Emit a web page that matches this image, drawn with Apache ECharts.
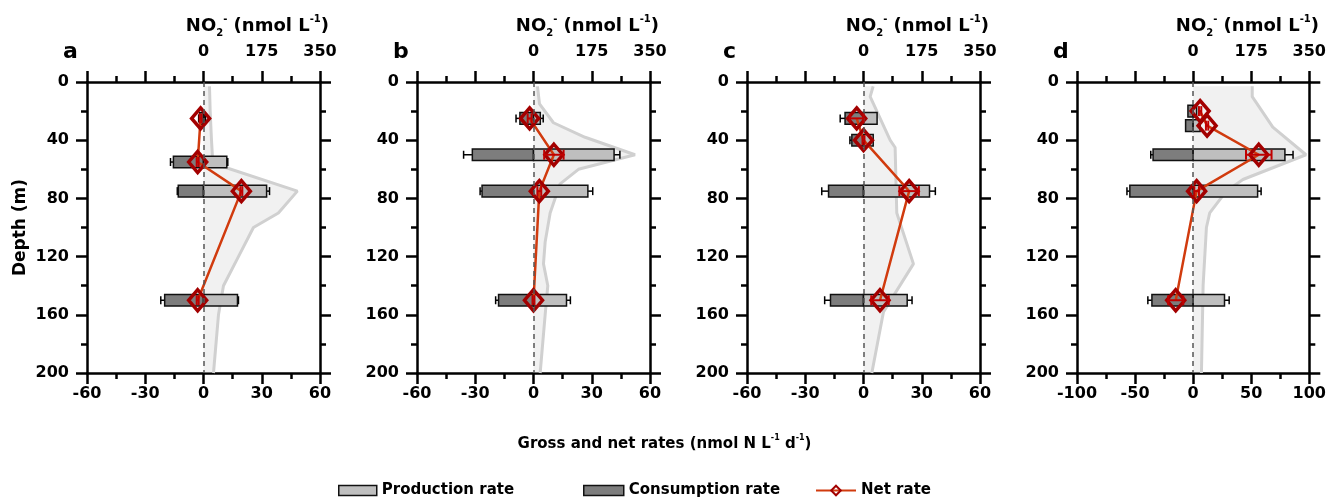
<!DOCTYPE html>
<html>
<head>
<meta charset="utf-8">
<script src="https://cdn.jsdelivr.net/npm/echarts@6/dist/echarts.min.js"></script>
<style>
  html, body { margin: 0; padding: 0; background: #fff; }
  #chart { width: 1329px; height: 499px; }
</style>
</head>
<body>
<div id="chart"></div>
<script>
// panel a
const depthA = [25, 55, 75, 150]
const prodA = [0.5, 12, 32.5, 17.5]
const prodSdA = [0.5, 0.5, 1.5, 0.5]
const consA = [-2, -15.5, -13, -20]
const consSdA = [0.5, 1.5, 0.5, 2]
const netA = [-1.5, -3, 19.5, -3]
const netSdA = [0.5, 0.5, 0.5, 0.5]
const no2DepthA = [3, 20, 40, 52, 56, 75, 90, 100, 120, 140, 160, 200]
const no2A = [18, 20, 24, 27, 30, 282, 225, 150, 105, 60, 45, 30]

// panel b
const depthB = [25, 50, 75, 150]
const prodB = [3.5, 41.5, 28, 17]
const prodSdB = [1.5, 3, 2.5, 2]
const consB = [-7, -31.5, -26.5, -18]
const consSdB = [2, 4.5, 1, 1.5]
const netB = [-2, 10.5, 3, 0]
const netSdB = [1, 5, 1, 0.5]
const no2DepthB = [3, 15, 28, 38, 50, 60, 70, 90, 110, 125, 140, 160, 200]
const no2B = [12, 18, 60, 155, 305, 135, 80, 50, 35, 30, 43, 35, 20]

// panel c
const depthC = [25, 40, 75, 150]
const prodC = [7, 5, 34, 22.5]
const prodSdC = [0, 0, 3, 2.5]
const consC = [-9.5, -6, -18, -17]
const consSdC = [2.5, 1, 3.5, 3]
const netC = [-3.5, 0, 23.5, 8.5]
const netSdC = [3.5, 0.5, 5, 4.5]
const no2DepthC = [3, 10, 40, 45, 90, 125, 158, 200]
const no2C = [29, 20, 80, 95, 100, 150, 60, 25]

// panel d
const depthD = [20, 30, 50, 75, 150]
const prodD = [3, 6, 79, 55.5, 27]
const prodSdD = [0, 0, 7, 3, 4]
const consD = [-4.5, -6.5, -34.5, -54.5, -35.5]
const consSdD = [0, 0, 2, 2.5, 3.5]
const netD = [6, 12, 56.5, 3, -15]
const netSdD = [1, 1, 11, 2, 6.5]
const no2DepthD = [3, 10, 31, 50, 67, 75, 90, 100, 140, 200]
const no2D = [178, 178, 240, 340, 150, 100, 50, 40, 30, 25]

const panelLabels = ['a', 'b', 'c', 'd']
const rateLimits = [60, 60, 60, 100]
const rateIntervals = [30, 30, 30, 50]
const no2Ticks = [-350, 350, 175]
const depthTicks = [0, 200, 40]

const panels = [
  { depth: depthA, prod: prodA, prodSd: prodSdA, cons: consA, consSd: consSdA, net: netA, netSd: netSdA, no2Depth: no2DepthA, no2: no2A },
  { depth: depthB, prod: prodB, prodSd: prodSdB, cons: consB, consSd: consSdB, net: netB, netSd: netSdB, no2Depth: no2DepthB, no2: no2B },
  { depth: depthC, prod: prodC, prodSd: prodSdC, cons: consC, consSd: consSdC, net: netC, netSd: netSdC, no2Depth: no2DepthC, no2: no2C },
  { depth: depthD, prod: prodD, prodSd: prodSdD, cons: consD, consSd: consSdD, net: netD, netSd: netSdD, no2Depth: no2DepthD, no2: no2D }
]

const FONT = 'DejaVu Sans'
const gridLeft = [87, 417, 747, 1077]
const gridWidth = 233
const gridTop = 82
const gridHeight = 291
const barHalf = 4

const prodColor = '#bfbfbf'
const consColor = '#7d7d7d'
const netColor = '#d13b0e'
const netMarker = '#a30000'

function barRender(params, api) {
  const depth = api.value(0)
  const v = api.value(1)
  const sd = api.value(2)
  const a = api.coord([0, depth - barHalf])
  const b = api.coord([v, depth + barHalf])
  const c = api.coord([v, depth])
  const children = []
  if (sd > 0) {
    const e = api.coord([v + Math.sign(v) * sd, depth])
    children.push({ type: 'line', shape: { x1: c[0], y1: c[1], x2: e[0], y2: e[1] }, style: { stroke: '#000', lineWidth: 1.5 } })
    children.push({ type: 'line', shape: { x1: e[0], y1: c[1] - 4, x2: e[0], y2: c[1] + 4 }, style: { stroke: '#000', lineWidth: 1.5 } })
  }
  children.push({
    type: 'rect',
    shape: { x: Math.min(a[0], b[0]), y: Math.min(a[1], b[1]), width: Math.abs(b[0] - a[0]), height: Math.abs(b[1] - a[1]) },
    style: { fill: api.visual('color'), stroke: '#111', lineWidth: 1.5 }
  })
  return { type: 'group', children: children }
}

function netErrRender(params, api) {
  const depth = api.value(0)
  const v = api.value(1)
  const sd = api.value(2)
  const l = api.coord([v - sd, depth])
  const r = api.coord([v + sd, depth])
  const st = { stroke: '#c00000', lineWidth: 2 }
  return {
    type: 'group',
    children: [
      { type: 'line', shape: { x1: l[0], y1: l[1], x2: r[0], y2: r[1] }, style: st },
      { type: 'line', shape: { x1: l[0], y1: l[1] - 5, x2: l[0], y2: l[1] + 5 }, style: st },
      { type: 'line', shape: { x1: r[0], y1: r[1] - 5, x2: r[0], y2: r[1] + 5 }, style: st }
    ]
  }
}

function fillRender(params, api) {
  if (params.dataIndex !== 0) return null
  const n = params.dataInsideLength
  const pts = []
  pts.push(api.coord([0, api.value(1, 0)]))
  for (let i = 0; i < n; i++) pts.push(api.coord([api.value(0, i), api.value(1, i)]))
  pts.push(api.coord([0, api.value(1, n - 1)]))
  return { type: 'polygon', shape: { points: pts }, style: { fill: 'rgba(210,210,210,0.3)' }, silent: true }
}

const grid = []
const xAxis = []
const yAxis = []
const series = []
const title = []

const tickLabel = { fontFamily: FONT, fontWeight: 'bold', fontSize: 16, color: '#000' }
const axisLine = { onZero: false, lineStyle: { color: '#000', width: 2.5 } }
const tick = { length: 11, lineStyle: { width: 2.5, color: '#000' } }
const minor = { show: true, splitNumber: 2, length: 6, lineStyle: { width: 2.5, color: '#000' } }

panels.forEach(function (p, i) {
  grid.push({ left: gridLeft[i], top: gridTop, width: gridWidth, height: gridHeight })
  const lim = rateLimits[i]
  xAxis.push({
    gridIndex: i, type: 'value', position: 'bottom', min: -lim, max: lim, interval: rateIntervals[i],
    axisLine: axisLine, splitLine: { show: false }, axisTick: tick, minorTick: minor,
    axisLabel: Object.assign({ margin: 13 }, tickLabel)
  })
  xAxis.push({
    gridIndex: i, type: 'value', position: 'top', min: no2Ticks[0], max: no2Ticks[1], interval: no2Ticks[2],
    axisLine: axisLine, splitLine: { show: false }, axisTick: tick, minorTick: minor,
    axisLabel: Object.assign({ margin: 22, formatter: function (v) { return v < 0 ? '' : String(v) } }, tickLabel)
  })
  yAxis.push({
    gridIndex: i, type: 'value', position: 'left', inverse: true, min: depthTicks[0], max: depthTicks[1], interval: depthTicks[2],
    axisLine: axisLine, splitLine: { show: false }, axisTick: tick, minorTick: minor,
    axisLabel: Object.assign({ margin: 18 }, tickLabel),
    name: i === 0 ? 'Depth (m)' : '', nameLocation: 'middle', nameGap: 58,
    nameTextStyle: { fontFamily: FONT, fontWeight: 'bold', fontSize: 17, color: '#000' }
  })
  yAxis.push({
    gridIndex: i, type: 'value', position: 'right', inverse: true, min: depthTicks[0], max: depthTicks[1], interval: depthTicks[2],
    axisLine: axisLine, splitLine: { show: false }, axisTick: tick, minorTick: minor,
    axisLabel: { show: false }
  })

  const no2Data = p.no2.map(function (v, k) { return [v, p.no2Depth[k]] })
  // NO2 shaded area
  series.push({
    type: 'custom', xAxisIndex: 2 * i + 1, yAxisIndex: 2 * i, z: 1,
    renderItem: fillRender, data: no2Data, encode: { x: 0, y: 1 }, silent: true
  })
  // NO2 profile line + zero line
  series.push({
    type: 'line', xAxisIndex: 2 * i + 1, yAxisIndex: 2 * i, z: 2, data: no2Data, symbol: 'none',
    lineStyle: { color: '#d0d0d0', width: 3 }, silent: true,
    markLine: {
      silent: true, symbol: 'none', label: { show: false },
      lineStyle: { type: [5, 4], color: '#555', width: 1.5 },
      data: [{ xAxis: 0 }]
    }
  })
  series.push({
    name: 'Consumption rate', type: 'custom', xAxisIndex: 2 * i, yAxisIndex: 2 * i, z: 3,
    itemStyle: { color: consColor }, renderItem: barRender, encode: { x: 1, y: 0 },
    data: p.depth.map(function (d, k) { return [d, p.cons[k], p.consSd[k]] })
  })
  series.push({
    name: 'Production rate', type: 'custom', xAxisIndex: 2 * i, yAxisIndex: 2 * i, z: 3,
    itemStyle: { color: prodColor }, renderItem: barRender, encode: { x: 1, y: 0 },
    data: p.depth.map(function (d, k) { return [d, p.prod[k], p.prodSd[k]] })
  })
  series.push({
    name: 'Net rate', type: 'line', xAxisIndex: 2 * i, yAxisIndex: 2 * i, z: 4,
    data: p.net.map(function (v, k) { return [v, p.depth[k]] }),
    symbol: 'diamond', symbolSize: [18, 21],
    lineStyle: { color: netColor, width: 2.5 },
    itemStyle: { color: 'rgba(255,255,255,0)', borderColor: netMarker, borderWidth: 3.5 }
  })
  series.push({
    type: 'custom', xAxisIndex: 2 * i, yAxisIndex: 2 * i, z: 5,
    renderItem: netErrRender, encode: { x: 1, y: 0 },
    data: p.depth.map(function (d, k) { return [d, p.net[k], p.netSd[k]] })
  })

  title.push({
    text: '{t|NO}{s|2}{p|-}{t| (nmol L}{p|-1}{t|)}',
    right: 1329 - (gridLeft[i] + gridWidth) - 14, top: 9,
    textStyle: {
      rich: {
        t: { fontFamily: FONT, fontWeight: 'bold', fontSize: 18, color: '#000', lineHeight: 24 },
        s: { fontFamily: FONT, fontWeight: 'bold', fontSize: 10, color: '#000', lineHeight: 10, verticalAlign: 'bottom' },
        p: { fontFamily: FONT, fontWeight: 'bold', fontSize: 10, color: '#000', lineHeight: 10, verticalAlign: 'top' }
      }
    }
  })
  title.push({
    text: panelLabels[i], left: gridLeft[i] - 29, top: 36,
    textStyle: { fontFamily: FONT, fontWeight: 'bold', fontSize: 22, color: '#000' }
  })
})

title.push({
  text: '{t|Gross and net rates (nmol N L}{p|-1}{t| d}{p|-1}{t|)}',
  left: 'center', top: 429,
  textStyle: {
    rich: {
      t: { fontFamily: FONT, fontWeight: 'bold', fontSize: 15, color: '#000', lineHeight: 20 },
      p: { fontFamily: FONT, fontWeight: 'bold', fontSize: 8, color: '#000', lineHeight: 8, verticalAlign: 'top' }
    }
  }
})

const legendText = { fontFamily: FONT, fontWeight: 'bold', fontSize: 15, color: '#000' }
const legend = [
  { left: 333, top: 478, itemWidth: 38, itemHeight: 10, textStyle: legendText,
    data: [{ name: 'Production rate', icon: 'rect', itemStyle: { color: prodColor, borderColor: '#111', borderWidth: 1.5 } }] },
  { left: 578, top: 478, itemWidth: 40, itemHeight: 10, textStyle: legendText,
    data: [{ name: 'Consumption rate', icon: 'rect', itemStyle: { color: consColor, borderColor: '#111', borderWidth: 1.5 } }] },
  { left: 810, top: 478, itemWidth: 40, itemHeight: 12, textStyle: legendText,
    data: [{ name: 'Net rate' }] }
]

const chart = echarts.init(document.getElementById('chart'), null, { renderer: 'canvas' })
chart.setOption({
  animation: false,
  backgroundColor: '#fff',
  title: title,
  legend: legend,
  grid: grid,
  xAxis: xAxis,
  yAxis: yAxis,
  series: series
})
</script>
</body>
</html>
